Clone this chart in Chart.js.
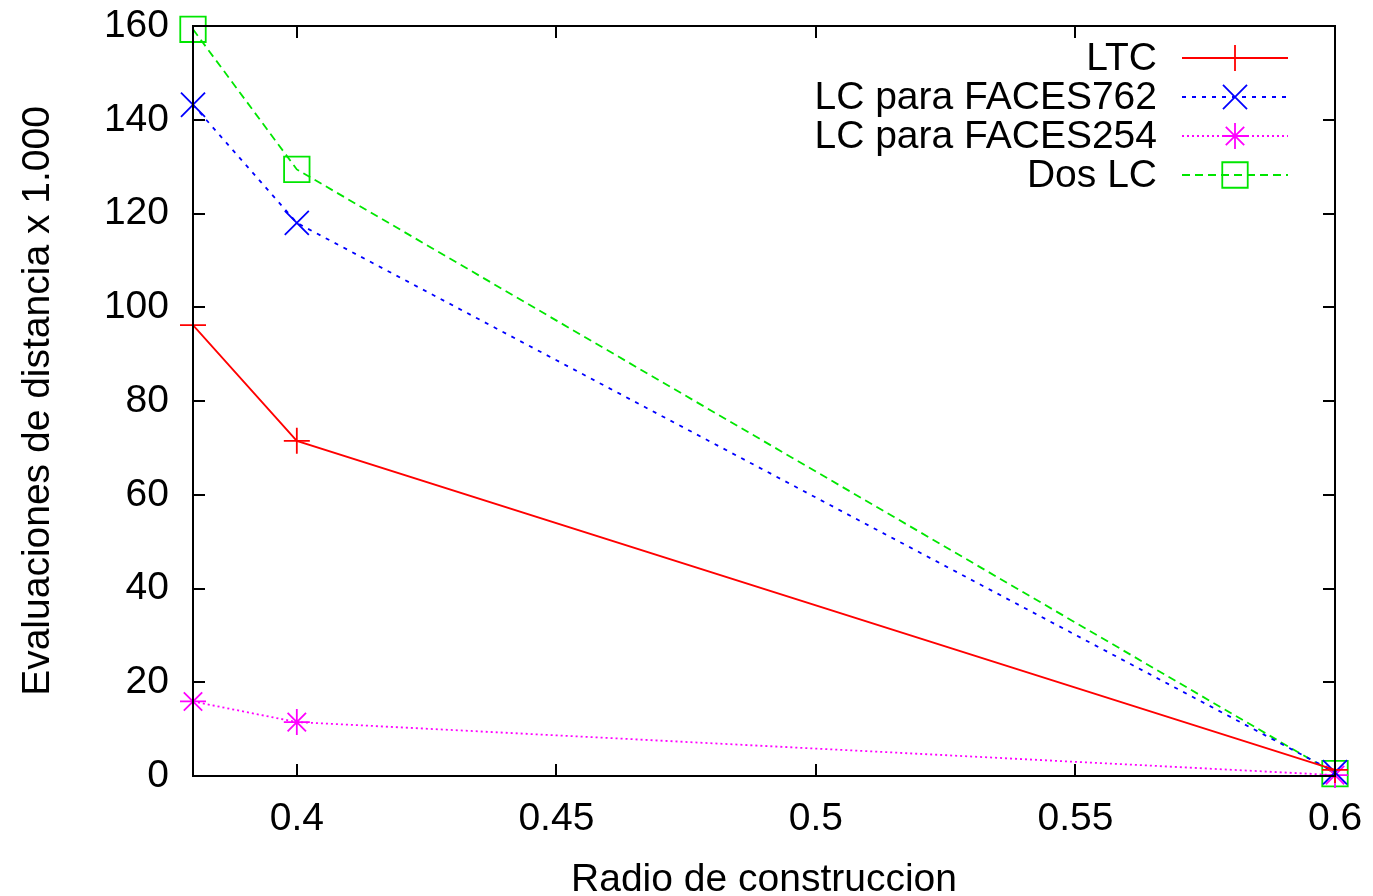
<!DOCTYPE html>
<html>
<head>
<meta charset="utf-8">
<script src="https://cdn.jsdelivr.net/npm/chart.js@4/dist/chart.umd.min.js"></script>
<style>
  html, body { margin: 0; padding: 0; background: #fff; }
  #wrap { width: 1373px; height: 896px; }
</style>
</head>
<body>
<div id="wrap"><canvas id="grafico" width="1373" height="896"></canvas></div>
<script>
// radios de construccion y evaluaciones (miles)
const radios = [0.38, 0.4, 0.6];
const ltc = [96.2, 71.5, 1.3];
const faces762 = [143.2, 118.0, 0.8];
const faces254 = [15.9, 11.5, 0.2];
const dosLC = [159.3, 129.4, 0.5];

const xTicks = [0.4, 0.45, 0.5, 0.55, 0.6];
const yTicks = [0, 20, 40, 60, 80, 100, 120, 140, 160];

const fuente = "'Liberation Sans', Arial, Helvetica, sans-serif";
const tam = 39;

const puntos = (ys) => radios.map((x, i) => ({ x: x, y: ys[i] }));

const serie = (label, ys, color, dash, estilo, radio) => ({
  label: label,
  data: puntos(ys),
  borderColor: color,
  backgroundColor: 'rgba(0,0,0,0)',
  borderWidth: 1.8,
  borderDash: dash,
  pointStyle: estilo,
  pointRadius: radio,
  pointBorderWidth: 1.8,
  pointBorderColor: color,
  pointBackgroundColor: 'rgba(0,0,0,0)',
  tension: 0,
  clip: false
});

// sin margenes extra: el area del grafico la fija layout.padding
const sinMargen = (s) => {
  s.paddingTop = 0; s.paddingBottom = 0;
  s.paddingLeft = 0; s.paddingRight = 0;
};

// marco con marcas hacia dentro en los cuatro lados
const marco = {
  id: 'marco',
  afterDatasetsDraw(chart) {
    const { ctx, chartArea: a, scales } = chart;
    const largo = 12;
    ctx.save();
    ctx.strokeStyle = '#000';
    ctx.lineWidth = 2;
    ctx.setLineDash([]);
    ctx.beginPath();
    yTicks.forEach(v => {
      const y = Math.round(scales.y.getPixelForValue(v));
      ctx.moveTo(a.left, y); ctx.lineTo(a.left + largo, y);
      ctx.moveTo(a.right, y); ctx.lineTo(a.right - largo, y);
    });
    xTicks.forEach(v => {
      const x = Math.round(scales.x.getPixelForValue(v));
      ctx.moveTo(x, a.bottom); ctx.lineTo(x, a.bottom - largo);
      ctx.moveTo(x, a.top); ctx.lineTo(x, a.top + largo);
    });
    ctx.stroke();
    ctx.strokeRect(a.left, a.top, a.right - a.left, a.bottom - a.top);
    ctx.restore();
  }
};

// leyenda estilo gnuplot: texto a la izquierda, muestra a la derecha
const leyenda = {
  id: 'leyenda',
  afterDraw(chart) {
    const ctx = chart.ctx;
    const textoX = 1157, lineaIni = 1182, lineaFin = 1288, marcaX = 1235;
    const y0 = 58, paso = 39;
    ctx.save();
    chart.data.datasets.forEach((ds, i) => {
      const y = y0 + i * paso;
      ctx.font = tam + 'px ' + fuente;
      ctx.fillStyle = '#000';
      ctx.textAlign = 'right';
      ctx.textBaseline = 'middle';
      ctx.fillText(ds.label, textoX, y + 1);

      ctx.strokeStyle = ds.borderColor;
      ctx.lineWidth = ds.borderWidth;
      ctx.setLineDash(ds.borderDash);
      ctx.beginPath();
      ctx.moveTo(lineaIni, y);
      ctx.lineTo(lineaFin, y);
      ctx.stroke();

      ctx.setLineDash([]);
      ctx.lineWidth = ds.pointBorderWidth;
      ctx.fillStyle = 'rgba(0,0,0,0)';
      Chart.helpers.drawPoint(ctx, {
        pointStyle: ds.pointStyle,
        radius: ds.pointRadius,
        rotation: 0,
        borderWidth: ds.pointBorderWidth
      }, marcaX, y);
    });
    ctx.restore();
  }
};

new Chart(document.getElementById('grafico'), {
  type: 'line',
  data: {
    datasets: [
      serie('LTC', ltc, '#ff0000', [], 'cross', 13),
      serie('LC para FACES762', faces762, '#0000ff', [4, 6], 'crossRot', 17),
      serie('LC para FACES254', faces254, '#ff00ff', [2, 3], 'star', 13),
      serie('Dos LC', dosLC, '#00e600', [8, 5], 'rect', 18)
    ]
  },
  options: {
    responsive: false,
    animation: false,
    layout: { padding: { top: 26, right: 38, left: 0, bottom: 0 } },
    plugins: {
      legend: { display: false },
      tooltip: { enabled: false }
    },
    scales: {
      x: {
        type: 'linear',
        min: 0.38,
        max: 0.6,
        afterBuildTicks: (s) => { s.ticks = xTicks.map(v => ({ value: v })); },
        afterFit: (s) => { s.height = 120; sinMargen(s); },
        grid: { display: false, drawTicks: false },
        border: { display: false },
        ticks: {
          padding: 20,
          maxRotation: 0,
          color: '#000',
          font: { family: fuente, size: tam },
          callback: (v) => String(v)
        },
        title: {
          display: true,
          text: 'Radio de construccion',
          color: '#000',
          padding: 0,
          font: { family: fuente, size: tam, lineHeight: 0.8 }
        }
      },
      y: {
        min: 0,
        max: 160,
        afterBuildTicks: (s) => { s.ticks = yTicks.map(v => ({ value: v })); },
        afterFit: (s) => { s.width = 193; sinMargen(s); },
        grid: { display: false, drawTicks: false },
        border: { display: false },
        ticks: {
          padding: 24,
          color: '#000',
          font: { family: fuente, size: tam }
        },
        title: {
          display: true,
          text: 'Evaluaciones de distancia x 1.000',
          color: '#000',
          padding: { top: 15, bottom: 0 },
          font: { family: fuente, size: tam }
        }
      }
    }
  },
  plugins: [marco, leyenda]
});
</script>
</body>
</html>
